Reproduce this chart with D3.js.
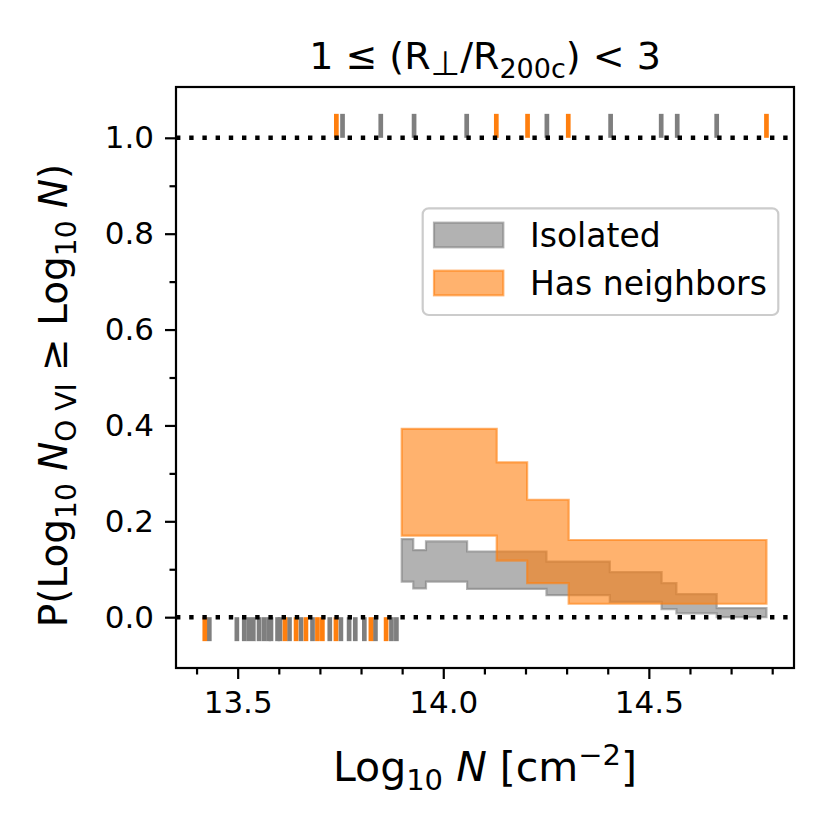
<!DOCTYPE html>
<html>
<head>
<meta charset="utf-8">
<script src="https://cdn.jsdelivr.net/npm/d3@7"></script>
<style>
  body { margin: 0; background: #fff; }
  svg { font-family: "DejaVu Sans", sans-serif; }
</style>
</head>
<body>
<div class="chart-area"></div>
<script>
// Detections (rug along y = 1)
const isoDetections = [13.755, 13.848, 13.929, 14.057, 14.252, 14.407, 14.530, 14.569, 14.665];
const nbrDetections = [13.740, 14.129, 14.205, 14.304, 14.786];

// Upper limits (rug along y = 0)
const isoLimits = [13.431, 13.498, 13.516, 13.527, 13.538, 13.552, 13.564, 13.575, 13.581,
    13.597, 13.603, 13.626, 13.654, 13.682, 13.724, 13.751, 13.771, 13.786, 13.808,
    13.835, 13.874, 13.886];
const nbrLimits = [13.420, 13.615, 13.642, 13.666, 13.694, 13.706, 13.739, 13.824, 13.861];

// Step bands: edges and the value held after each edge
const isoStepX = [13.899, 13.927, 13.958, 14.058, 14.251, 14.405, 14.531, 14.567, 14.665, 14.786];
const isoUpper = [0.163, 0.140, 0.158, 0.137, 0.116, 0.094, 0.071, 0.048, 0.019];
const isoLower = [0.074, 0.060, 0.074, 0.059, 0.046, 0.032, 0.017, 0.008, 0.000];

const nbrStepX = [13.899, 14.130, 14.204, 14.305, 14.786];
const nbrUpper = [0.393, 0.323, 0.245, 0.161];
const nbrLower = [0.170, 0.118, 0.071, 0.028];

const xTicks = [13.5, 14.0, 14.5];
const xMinor = [13.4, 13.6, 13.7, 13.8, 13.9, 14.1, 14.2, 14.3, 14.4, 14.6, 14.7, 14.8];
const yTicks = [0.0, 0.2, 0.4, 0.6, 0.8, 1.0];
const yMinor = [0.1, 0.3, 0.5, 0.7, 0.9];

const seriesNames = ["Isolated", "Has neighbors"];

const grey = "#7f7f7f", orange = "#ff7f0e";

// Layout
const W = 830, H = 830;
const margin = { top: 87, right: 36, bottom: 162, left: 176 },
    width = W - margin.left - margin.right,
    height = H - margin.top - margin.bottom;

const svgRoot = d3.select(".chart-area")
    .append("svg")
    .attr("width", W)
    .attr("height", H);

const svg = svgRoot.append("g")
    .attr("transform", `translate(${margin.left},${margin.top})`);

const x = d3.scaleLinear().domain([13.35, 14.853]).range([0, width]);
const y = d3.scaleLinear().domain([-0.106, 1.106]).range([height, 0]);

svg.append("clipPath").attr("id", "clip")
    .append("rect").attr("width", width).attr("height", height);

const plot = svg.append("g").attr("clip-path", "url(#clip)");

// build step table from edges + segment values
function stepTable(xs, lo, hi) {
    return xs.map((xv, i) => {
        const k = Math.min(i, lo.length - 1);
        return { x: xv, lo: lo[k], hi: hi[k] };
    });
}

const area = d3.area()
    .curve(d3.curveStepAfter)
    .x(d => x(d.x))
    .y0(d => y(d.lo))
    .y1(d => y(d.hi));

function drawBand(table, col) {
    plot.append("path")
        .datum(table)
        .attr("d", area)
        .attr("fill", col)
        .attr("fill-opacity", 0.6)
        .attr("stroke", col)
        .attr("stroke-opacity", 0.6)
        .attr("stroke-width", 2.2)
        .attr("stroke-linejoin", "miter");
}

drawBand(stepTable(isoStepX, isoLower, isoUpper), grey);
drawBand(stepTable(nbrStepX, nbrLower, nbrUpper), orange);

// rugs
function drawRug(vals, col, y0, y1) {
    plot.append("g").selectAll("line")
        .data(vals)
        .enter()
        .append("line")
        .attr("x1", d => x(d)).attr("x2", d => x(d))
        .attr("y1", y(y0)).attr("y2", y(y1))
        .attr("stroke", col)
        .attr("stroke-width", 4.7);
}

drawRug(isoLimits, grey, 0, -0.05);
drawRug(nbrLimits, orange, 0, -0.05);
drawRug(isoDetections, grey, 1, 1.05);
drawRug(nbrDetections, orange, 1, 1.05);

// dotted reference lines
[0, 1].forEach(v => {
    plot.append("line")
        .attr("x1", 0).attr("x2", width)
        .attr("y1", y(v)).attr("y2", y(v))
        .attr("stroke", "#000")
        .attr("stroke-width", 4.4)
        .attr("stroke-dasharray", "4.4,8.8");
});

// axes
const tickFont = 31;
svg.append("g")
    .attr("transform", `translate(0,${height})`)
    .call(d3.axisBottom(x).tickValues(xTicks).tickSize(11).tickPadding(12).tickFormat(d3.format(".1f")));
svg.append("g")
    .attr("transform", `translate(0,${height})`)
    .call(d3.axisBottom(x).tickValues(xMinor).tickSize(6.5).tickFormat(""));
svg.append("g")
    .call(d3.axisLeft(y).tickValues(yTicks).tickSize(11).tickPadding(11).tickFormat(d3.format(".1f")));
svg.append("g")
    .call(d3.axisLeft(y).tickValues(yMinor).tickSize(6.5).tickFormat(""));

svg.selectAll(".domain").remove();
svg.selectAll(".tick line").attr("stroke", "#000").attr("stroke-width", 2.2);
svg.selectAll(".tick text")
    .attr("fill", "#000")
    .style("font-size", tickFont + "px")
    .style("font-family", "DejaVu Sans");

// frame
svg.append("rect")
    .attr("width", width).attr("height", height)
    .attr("fill", "none")
    .attr("stroke", "#000")
    .attr("stroke-width", 2.2);

// legend
const legend = svg.append("g").attr("transform", `translate(${422.7 - margin.left},${208.3 - margin.top})`);
legend.append("rect")
    .attr("width", 355.6).attr("height", 106.7)
    .attr("rx", 6).attr("ry", 6)
    .attr("fill", "#fff").attr("fill-opacity", 0.8)
    .attr("stroke", "#cccccc").attr("stroke-width", 2.2);
[grey, orange].forEach((col, i) => {
    const g = legend.append("g").attr("transform", `translate(11.3,${14.4 + i * 48})`);
    g.append("rect")
        .attr("width", 69.3).attr("height", 24.6)
        .attr("fill", col).attr("fill-opacity", 0.6)
        .attr("stroke", col).attr("stroke-opacity", 0.6).attr("stroke-width", 2.2);
    g.append("text")
        .attr("x", 96).attr("y", 24)
        .style("font-size", "33px")
        .text(seriesNames[i]);
});

// title
const title = svgRoot.append("text")
    .attr("x", margin.left + width / 2)
    .attr("y", 69)
    .attr("text-anchor", "middle")
    .style("font-size", "38px");
title.append("tspan").text("1 ≤ (R");
title.append("tspan").attr("dy", 6).style("font-size", "34px").text("⊥");
title.append("tspan").attr("dy", -6).text("/R");
title.append("tspan").attr("dy", 9).style("font-size", "27px").text("200c");
title.append("tspan").attr("dy", -9).text(") < 3");

// x label
const xl = svgRoot.append("text")
    .attr("x", margin.left + width / 2)
    .attr("y", 781)
    .attr("text-anchor", "middle")
    .style("font-size", "41px");
xl.append("tspan").text("Log");
xl.append("tspan").attr("dy", 9).style("font-size", "29px").text("10");
xl.append("tspan").attr("dy", -9).text(" ");
xl.append("tspan").style("font-style", "italic").text("N");
xl.append("tspan").text(" [cm");
xl.append("tspan").attr("dy", -16).style("font-size", "29px").text("−2");
xl.append("tspan").attr("dy", 16).text("]");

// y label
const yl = svgRoot.append("text")
    .attr("transform", `translate(67,${margin.top + height / 2 + 18}) rotate(-90)`)
    .attr("text-anchor", "middle")
    .style("font-size", "39px");
yl.append("tspan").text("P(Log");
yl.append("tspan").attr("dy", 9).style("font-size", "28px").text("10");
yl.append("tspan").attr("dy", -9).text(" ");
yl.append("tspan").style("font-style", "italic").text("N");
yl.append("tspan").attr("dy", 9).style("font-size", "28px").text("O VI");
yl.append("tspan").attr("dy", -9).text(" ≥ Log");
yl.append("tspan").attr("dy", 9).style("font-size", "28px").text("10");
yl.append("tspan").attr("dy", -9).text(" ");
yl.append("tspan").style("font-style", "italic").text("N");
yl.append("tspan").text(")");
</script>
</body>
</html>
